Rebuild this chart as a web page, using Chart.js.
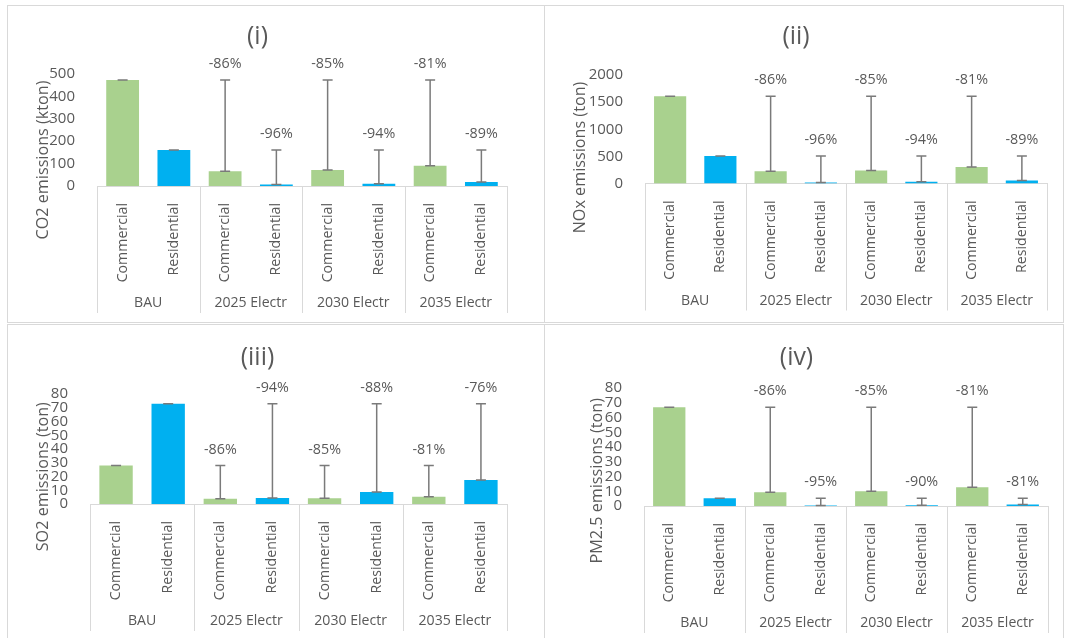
<!DOCTYPE html>
<html>
<head>
<meta charset="utf-8">
<script src="https://cdn.jsdelivr.net/npm/chart.js@4.4.0/dist/chart.umd.min.js"></script>
<style>
  body { margin: 0; background: #fff; width: 1071px; height: 638px; position: relative; overflow: hidden; }
  .panel { position: absolute; box-sizing: border-box; border: 1px solid #d9d9d9; background: #fff; }
  .panel canvas { display: block; }
</style>
</head>
<body>
<div class="panel" style="left:7px;top:5px;width:538px;height:318px"><canvas id="c1"></canvas></div>
<div class="panel" style="left:544px;top:5px;width:520px;height:318px"><canvas id="c2"></canvas></div>
<div class="panel" style="left:7px;top:324px;width:538px;height:320px"><canvas id="c3"></canvas></div>
<div class="panel" style="left:544px;top:324px;width:520px;height:320px"><canvas id="c4"></canvas></div>
<script>
// data
const categories = ['Commercial', 'Residential', 'Commercial', 'Residential', 'Commercial', 'Residential', 'Commercial', 'Residential'];
const groups = ['BAU', '2025 Electr', '2030 Electr', '2035 Electr'];

const co2 = [473, 161, 66, 6.5, 71, 9.7, 90, 17.7];
const nox = [1610, 505, 225, 20, 240, 30, 305, 55];
const so2 = [28, 73, 3.9, 4.4, 4.2, 8.8, 5.3, 17.5];
const pm25 = [67, 5.2, 9.4, 0.26, 10, 0.52, 12.7, 1];

const co2Pct = ['', '', '-86%', '-96%', '-85%', '-94%', '-81%', '-89%'];
const noxPct = ['', '', '-86%', '-96%', '-85%', '-94%', '-81%', '-89%'];
const so2Pct = ['', '', '-86%', '-94%', '-85%', '-88%', '-81%', '-76%'];
const pm25Pct = ['', '', '-86%', '-95%', '-85%', '-90%', '-81%', '-81%'];

const GREEN = '#A9D18E', BLUE = '#00B0F0', TXT = '#595959';
const FONT = '"Open Sans", "DejaVu Sans", sans-serif';

// pick font sizes so the texts get the widths seen in the picture
const mctx = document.createElement('canvas').getContext('2d');
function fitSize(text, target) {
  mctx.font = '100px ' + FONT;
  return +(100 * target / mctx.measureText(text).width).toFixed(1);
}
const SZ = {
  cat: fitSize('Commercial', 79.4),
  pct: fitSize('-86%', 32.7),
  grp: fitSize('2025 Electr', 73),
  ytitle: fitSize('CO2 emissions (kton)', 159.3),
  title: fitSize('(iv)', 33.3),
  tick: 15
};

// error bars back to BAU, % labels, group labels and separators, y title
const extras = {
  id: 'extras',
  afterDatasetsDraw(chart, args, opts) {
    const ctx = chart.ctx;
    const xs = chart.scales.x, ys = chart.scales.y;
    const vals = chart.data.datasets[0].data;
    ctx.save();
    ctx.strokeStyle = '#7a7a7a';
    ctx.lineWidth = 1.5;
    vals.forEach((v, i) => {
      const x = xs.getPixelForValue(i);
      const yTop = ys.getPixelForValue(vals[i % 2]);
      const yBot = ys.getPixelForValue(v);
      ctx.beginPath();
      ctx.moveTo(x, yTop); ctx.lineTo(x, yBot);
      ctx.moveTo(x - 5, yTop); ctx.lineTo(x + 5, yTop);
      ctx.moveTo(x - 5, yBot); ctx.lineTo(x + 5, yBot);
      ctx.stroke();
      if (opts.pct[i]) {
        ctx.fillStyle = TXT;
        ctx.font = SZ.pct + 'px ' + FONT;
        ctx.textAlign = 'center';
        ctx.textBaseline = 'middle';
        ctx.fillText(opts.pct[i], x, yTop - 16);
      }
    });
    ctx.restore();
  },
  afterDraw(chart, args, opts) {
    const ctx = chart.ctx;
    const xs = chart.scales.x;
    const bottom = chart.chartArea.bottom;
    const half = (xs.getPixelForValue(1) - xs.getPixelForValue(0)) / 2;
    ctx.save();
    ctx.strokeStyle = '#d9d9d9';
    ctx.lineWidth = 1;
    for (let g = 0; g <= groups.length; g++) {
      const xb = Math.round(xs.getPixelForValue(g * 2) - half) + 0.5;
      ctx.beginPath();
      ctx.moveTo(xb, bottom);
      ctx.lineTo(xb, bottom + 127);
      ctx.stroke();
    }
    ctx.fillStyle = TXT;
    ctx.font = SZ.grp + 'px ' + FONT;
    ctx.textAlign = 'center';
    ctx.textBaseline = 'middle';
    groups.forEach((g, i) => {
      const xc = (xs.getPixelForValue(i * 2) + xs.getPixelForValue(i * 2 + 1)) / 2;
      ctx.fillText(g, xc, bottom + 117);
    });
    // y axis title
    ctx.translate(opts.ytx, opts.yty);
    ctx.rotate(-Math.PI / 2);
    ctx.font = SZ.ytitle + 'px ' + FONT;
    ctx.fillText(opts.ytitle, 0, 0);
    ctx.restore();
  }
};

function makeChart(id, w, h, vals, pct, title, yTitle, max, step, lay) {
  const cv = document.getElementById(id);
  cv.width = w; cv.height = h;
  const lh = SZ.title * 1.2;
  const tTop = lay.tc - lh / 2;
  const tBot = lay.top - tTop - lh;
  return new Chart(cv, {
    type: 'bar',
    data: {
      labels: categories,
      datasets: [{
        data: vals,
        backgroundColor: vals.map((v, i) => i % 2 ? BLUE : GREEN),
        borderWidth: 0,
        categoryPercentage: 1,
        barPercentage: 0.64
      }]
    },
    options: {
      responsive: false,
      animation: false,
      layout: { padding: { left: 0, right: lay.right, top: 0, bottom: 0 } },
      plugins: {
        legend: { display: false },
        tooltip: { enabled: false },
        title: {
          display: true, text: title, color: TXT,
          font: { family: FONT, size: SZ.title, weight: 'normal' },
          padding: { top: tTop, bottom: tBot }
        },
        extras: { pct: pct, ytitle: yTitle, ytx: lay.ytx, yty: lay.yty }
      },
      scales: {
        x: {
          grid: { display: false },
          border: { display: true, color: '#d9d9d9', width: 1 },
          ticks: { color: TXT, font: { family: FONT, size: SZ.cat }, minRotation: 90, maxRotation: 90, autoSkip: false, padding: 9 },
          afterFit: s => { s.height = lay.xh; }
        },
        y: {
          min: 0, max: max,
          grid: { display: false },
          border: { display: false },
          ticks: { stepSize: step, autoSkip: false, color: TXT, font: { family: FONT, size: SZ.tick }, padding: 14,
                   callback: v => String(v) },
          afterFit: s => { s.width = lay.yw; }
        }
      }
    },
    plugins: [extras]
  });
}

makeChart('c1', 536, 316, co2, co2Pct, '(i)', 'CO2 emissions (kton)', 500, 100,
  { right: 37, tc: 31, top: 68, xh: 136, yw: 89, ytx: 35, yty: 154 });
makeChart('c2', 518, 316, nox, noxPct, '(ii)', 'NOx emissions (ton)', 2000, 500,
  { right: 16, tc: 31, top: 69, xh: 138.5, yw: 100, ytx: 35, yty: 151.5 });
makeChart('c3', 536, 318, so2, so2Pct, '(iii)', 'SO2 emissions (ton)', 80, 10,
  { right: 37, tc: 33, top: 69, xh: 139, yw: 82, ytx: 35, yty: 151.7 });
makeChart('c4', 518, 318, pm25, pm25Pct, '(iv)', 'PM2.5 emissions (ton)', 80, 10,
  { right: 15, tc: 33, top: 63, xh: 137, yw: 99, ytx: 52, yty: 155.8 });
</script>
</body>
</html>
